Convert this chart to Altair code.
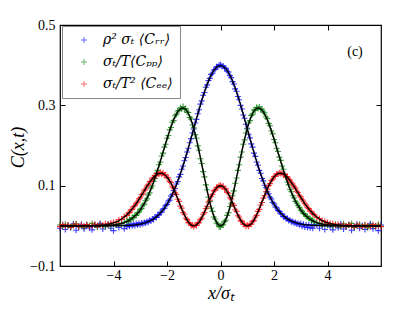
import altair as alt
import pandas as pd

# ---------------- data ----------------
LABELS = ["ρ² σₜ ⟨Cᵣᵣ⟩", "σₜ/T⟨Cₚₚ⟩", "σₜ/T² ⟨Cₑₑ⟩"]
COLORS = ["#0000ff", "#008000", "#ff0000"]

# sample positions of the measured points (x / sigma_t)
X_DATA = ([round(-6.0 + 0.1 * i, 2) for i in range(25)]
          + [round(-3.5 + 0.05 * i, 2) for i in range(141)]
          + [round(3.6 + 0.1 * i, 2) for i in range(25)])

DATA_RR = [
    -.006, .003, -.009, .001, -.004, .005, -.011, -.002, .004, -.007,
    .002, -.005, -.010, .003, -.003, .006, -.008, -.001, .004, -.006,
    -.012, .002, -.004, .005, -.007,
    -.002, .003, -.001, .004, .000, .004, .001, .005, .002, .006,
    .003, .007, .005, .008, .007, .011, .009, .014, .012, .017,
    .016, .022, .021, .027, .027, .034, .034, .042, .043, .051,
    .053, .062, .064, .074, .078, .088, .093, .104, .110, .122,
    .128, .141, .149, .162, .170, .184, .193, .207, .217, .231,
    .241, .256, .265, .279, .289, .303, .311, .325, .332, .345,
    .351, .362, .367, .377, .380, .388, .390, .396, .396, .400,
    .401, .397, .398, .393, .392, .385, .383, .374, .369, .359,
    .353, .341, .335, .322, .314, .300, .291, .276, .268, .253,
    .243, .228, .219, .204, .196, .181, .173, .159, .151, .138,
    .131, .118, .112, .101, .095, .085, .080, .071, .067, .058,
    .055, .047, .045, .038, .036, .030, .029, .023, .023, .018,
    .018, .013, .014, .010, .011, .007, .008, .005, .006, .003,
    .006, -.001, .004, -.003, .003, -.004, .002, -.005, .003, -.006,
    .001,
    .003, -.006, .001, -.009, .004, -.003, -.010, .002, -.005, .005,
    -.008, -.002, .003, -.011, -.004, .004, -.006, .001, -.009, -.003,
    .005, -.007, -.001, -.012, .002,
]

DATA_PP = [
    .002, -.003, .004, .000, -.004, .003, .005, -.002, .001, -.004,
    .003, -.001, .006, .002, -.003, .004, .000, -.002, .004, .001,
    .004, .002, .006, .005, .009,
    .012, .011, .016, .015, .020, .020, .026, .026, .033, .034,
    .041, .043, .052, .054, .063, .067, .077, .082, .094, .099,
    .111, .118, .131, .138, .152, .159, .174, .181, .196, .203,
    .218, .225, .239, .245, .258, .262, .274, .277, .286, .287,
    .294, .291, .297, .290, .292, .283, .282, .270, .266, .251,
    .244, .227, .218, .199, .188, .167, .155, .135, .122, .102,
    .090, .071, .061, .044, .036, .022, .017, .007, .005, -.002,
    -.003, .003, .002, .011, .014, .026, .033, .048, .057, .075,
    .087, .106, .119, .138, .152, .171, .184, .203, .214, .231,
    .241, .256, .262, .275, .278, .288, .288, .295, .292, .296,
    .290, .291, .283, .281, .271, .267, .255, .249, .236, .229,
    .215, .207, .193, .185, .171, .163, .149, .141, .128, .121,
    .109, .102, .091, .085, .075, .070, .061, .057, .050, .046,
    .039, .037, .031, .029, .024, .023, .018, .018, .014, .014,
    .010,
    .007, .007, .003, .005, .001, .003, -.001, .004, .000, -.003,
    .005, -.002, .002, .006, -.004, .001, .004, -.003, .002, -.005,
    .003, .000, -.002, .004, -.001,
]

DATA_EE = [
    -.002, .003, -.001, .002, -.003, .001, .004, -.002, .002, -.001,
    .003, -.002, .001, .004, .000, .003, .001, .005, .003, .007,
    .009, .009, .015, .016, .023,
    .026, .032, .033, .040, .041, .048, .050, .057, .059, .067,
    .070, .078, .080, .089, .091, .099, .102, .110, .111, .119,
    .119, .126, .125, .131, .129, .133, .129, .132, .126, .127,
    .120, .119, .110, .108, .097, .094, .082, .078, .066, .061,
    .049, .044, .033, .029, .019, .016, .008, .007, .001, .002,
    -.002, .002, .001, .007, .008, .016, .019, .029, .033, .043,
    .048, .059, .064, .074, .078, .087, .089, .096, .096, .100,
    .101, .097, .099, .092, .092, .083, .081, .070, .067, .055,
    .051, .040, .036, .025, .022, .013, .011, .004, .004, -.001,
    .002, -.001, .004, .004, .011, .013, .022, .026, .036, .041,
    .052, .058, .069, .075, .085, .091, .100, .105, .113, .116,
    .123, .124, .129, .129, .132, .130, .131, .128, .128, .123,
    .122, .116, .114, .107, .104, .097, .094, .086, .083, .075,
    .072, .065, .062, .055, .052, .045, .043, .037, .035, .030,
    .028,
    .021, .018, .013, .011, .008, .006, .005, .002, .004, .001,
    .002, -.001, .003, .000, -.002, .002, .001, -.003, .002, .000,
    -.002, .003, -.001, .001, -.002,
]

# theory curves (black lines), sampled every 0.1 from -6 to 6
X_FIT = [round(-6.0 + 0.1 * i, 1) for i in range(121)]

FIT_RR = [
    0, 0, 0, 0, 0, 0, 0, 0, 0, 0, 0, 0, 0, 0, 0, 0, 0, 0, 0, 0,
    .0001, .0002, .0003, .0004, .0006, .0009, .0012, .0017, .0024, .0033,
    .0044, .0060, .0079, .0104, .0136, .0175, .0224, .0283, .0355, .0440,
    .0540, .0656, .0790, .0940, .1109, .1295, .1497, .1714, .1942, .2179,
    .2420, .2661, .2897, .3123, .3332, .3521, .3683, .3814, .3910, .3970,
    .3989,
    .3970, .3910, .3814, .3683, .3521, .3332, .3123, .2897, .2661, .2420,
    .2179, .1942, .1714, .1497, .1295, .1109, .0940, .0790, .0656, .0540,
    .0440, .0355, .0283, .0224, .0175, .0136, .0104, .0079, .0060, .0044,
    .0033, .0024, .0017, .0012, .0009, .0006, .0004, .0003, .0002, .0001,
    0, 0, 0, 0, 0, 0, 0, 0, 0, 0, 0, 0, 0, 0, 0, 0, 0, 0, 0, 0,
]

FIT_PP = [
    0, 0, 0, 0, 0, 0, 0, 0, 0, 0, 0, 0,
    .0001, .0001, .0002, .0003, .0005, .0007, .0010, .0015,
    .0021, .0030, .0042, .0058, .0079, .0107, .0142, .0188, .0244, .0314,
    .0399, .0505, .0619, .0758, .0919, .1094, .1290, .1497, .1718, .1940,
    .2160, .2368, .2560, .2717, .2839, .2914, .2934, .2897, .2796, .2637,
    .2420, .2155, .1854, .1530, .1200, .0880, .0589, .0343, .0156, .0040,
    0,
    .0040, .0156, .0343, .0589, .0880, .1200, .1530, .1854, .2155, .2420,
    .2637, .2796, .2897, .2934, .2914, .2839, .2717, .2560, .2368, .2160,
    .1940, .1718, .1497, .1290, .1094, .0919, .0758, .0619, .0505, .0399,
    .0314, .0244, .0188, .0142, .0107, .0079, .0058, .0042, .0030, .0021,
    .0015, .0010, .0007, .0005, .0003, .0002, .0001, .0001,
    0, 0, 0, 0, 0, 0, 0, 0, 0, 0, 0, 0,
]

FIT_EE = [
    0, 0, 0, 0, 0, 0, 0, 0, .0001, .0001,
    .0002, .0003, .0005, .0007, .0010, .0015, .0021, .0029, .0041, .0056,
    .0075, .0100, .0132, .0171, .0219, .0276, .0343, .0421, .0509, .0605,
    .0709, .0817, .0926, .1031, .1127, .1208, .1269, .1303, .1308, .1279,
    .1215, .1117, .0991, .0839, .0675, .0506, .0345, .0204, .0094, .0024,
    0, .0024, .0094, .0203, .0341, .0495, .0650, .0790, .0901, .0973,
    .0997,
    .0973, .0901, .0790, .0650, .0495, .0341, .0203, .0094, .0024, 0,
    .0024, .0094, .0204, .0345, .0506, .0675, .0839, .0991, .1117, .1215,
    .1279, .1308, .1303, .1269, .1208, .1127, .1031, .0926, .0817, .0709,
    .0605, .0509, .0421, .0343, .0276, .0219, .0171, .0132, .0100, .0075,
    .0056, .0041, .0029, .0021, .0015, .0010, .0007, .0005, .0003, .0002,
    .0001, .0001, 0, 0, 0, 0, 0, 0, 0, 0,
]

X_TICKS = [-4, -2, 0, 2, 4]
Y_TICKS = [-0.1, 0.1, 0.3, 0.5]
PANEL = "(c)"

# ---------------- tables ----------------
pts = pd.concat([
    pd.DataFrame({"x": X_DATA, "y": DATA_RR, "series": LABELS[0]}),
    pd.DataFrame({"x": X_DATA, "y": DATA_PP, "series": LABELS[1]}),
    pd.DataFrame({"x": X_DATA, "y": DATA_EE, "series": LABELS[2]}),
], ignore_index=True)

fit = pd.concat([
    pd.DataFrame({"x": X_FIT, "y": FIT_RR, "series": LABELS[0]}),
    pd.DataFrame({"x": X_FIT, "y": FIT_PP, "series": LABELS[1]}),
    pd.DataFrame({"x": X_FIT, "y": FIT_EE, "series": LABELS[2]}),
], ignore_index=True)

W, H = 321, 241
PLUS = "M-1,0L1,0M0,-1L0,1"
SERIF = "Liberation Serif"

xs = alt.Scale(domain=[-6, 6], nice=False, zero=False)
ys = alt.Scale(domain=[-0.1, 0.5], nice=False, zero=False)

main_x = alt.Axis(orient="bottom", values=X_TICKS, ticks=False, domain=False, grid=False,
                  labelFont=SERIF, labelFontSize=14, labelPadding=2, labelColor="black",
                  title="x/σₜ", titleFont=SERIF, titleFontSize=18, titleFontStyle="italic",
                  titleFontWeight="normal", titleColor="black",
                  titleY=27, titleBaseline="middle")
main_y = alt.Axis(orient="left", values=Y_TICKS, format=".1f", ticks=False, domain=False, grid=False,
                  labelFont=SERIF, labelFontSize=14, labelPadding=5, labelColor="black",
                  title="C(x,t)", titleFont=SERIF, titleFontSize=18, titleFontStyle="italic",
                  titleFontWeight="normal", titleColor="black",
                  titleX=-42, titleY=122, titleBaseline="middle")

def tick_axis(orient, vals, off):
    return alt.Axis(orient=orient, values=vals, offset=off, labels=False, domain=False,
                    grid=False, ticks=True, tickSize=5, tickColor="black", tickWidth=1,
                    title=None)

points = alt.Chart(pts).mark_point(shape=PLUS, filled=False, size=36, strokeWidth=1.1,
                                   opacity=0.75).encode(
    x=alt.X("x:Q", scale=xs, axis=main_x),
    y=alt.Y("y:Q", scale=ys, axis=main_y),
    color=alt.Color("series:N", scale=alt.Scale(domain=LABELS, range=COLORS),
                    legend=alt.Legend(title=None, orient="none", legendX=2, legendY=1,
                                      direction="vertical", fillColor="white",
                                      strokeColor="#888888", padding=7, rowPadding=8,
                                      symbolType=PLUS, symbolSize=36, symbolStrokeWidth=1,
                                      symbolOpacity=0.6, symbolOffset=8,
                                      labelFont="DejaVu Serif", labelFontStyle="italic",
                                      labelFontSize=14, labelOffset=12, labelLimit=200,
                                      labelColor="black")),
)

lines = alt.Chart(fit).mark_line(color="black", strokeWidth=1.4, interpolate="monotone").encode(
    x=alt.X("x:Q", scale=xs, axis=tick_axis("top", X_TICKS, -H)),
    y=alt.Y("y:Q", scale=ys, axis=tick_axis("right", Y_TICKS, -W)),
    detail="series:N",
)

ghost = alt.Chart(fit).mark_point(opacity=0).encode(
    x=alt.X("x:Q", scale=xs, axis=tick_axis("bottom", X_TICKS, -H)),
    y=alt.Y("y:Q", scale=ys, axis=tick_axis("left", Y_TICKS, -W)),
)

panel = alt.Chart(pd.DataFrame({"t": [PANEL]})).mark_text(
    font=SERIF, fontSize=14, align="center", baseline="middle", color="black"
).encode(x=alt.value(295), y=alt.value(27), text="t:N")

chart = alt.layer(points, lines, ghost, panel).resolve_axis(
    x="independent", y="independent"
).properties(
    width=W, height=H,
    autosize=alt.AutoSizeParams(type="none"),
    padding={"left": 52, "top": 17, "right": 26, "bottom": 38},
    background="white",
).configure_view(stroke="black", strokeWidth=1.2)

chart.save("out.html", embed_options={"renderer": "svg", "actions": False})
